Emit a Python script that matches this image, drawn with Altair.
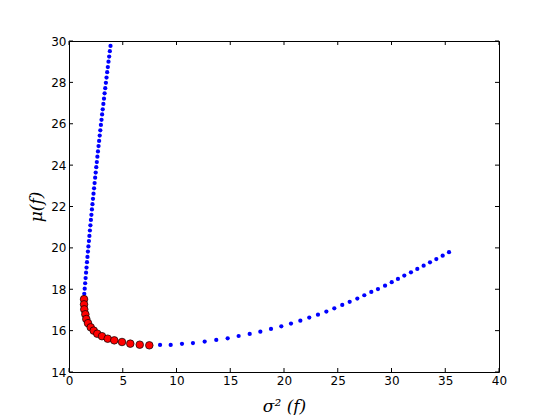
import altair as alt
import pandas as pd

# upper branch of the blue frontier (sigma^2, mu)
upper_var = [1.420, 1.461, 1.502, 1.545, 1.587, 1.630, 1.673, 1.717, 1.761, 1.806,
             1.852, 1.897, 1.944, 1.990, 2.038, 2.085, 2.133, 2.182, 2.231, 2.280,
             2.331, 2.381, 2.432, 2.484, 2.536, 2.588, 2.641, 2.694, 2.748, 2.802,
             2.857, 2.912, 2.968, 3.024, 3.081, 3.138, 3.196, 3.254, 3.312, 3.371,
             3.431, 3.491, 3.551, 3.612, 3.674, 3.736, 3.798, 3.861]
upper_mu = [17.78, 18.03, 18.29, 18.54, 18.80, 19.05, 19.31, 19.56, 19.82, 20.07,
            20.33, 20.58, 20.84, 21.09, 21.35, 21.60, 21.86, 22.11, 22.37, 22.62,
            22.88, 23.13, 23.39, 23.64, 23.90, 24.15, 24.41, 24.66, 24.92, 25.17,
            25.43, 25.68, 25.94, 26.19, 26.45, 26.70, 26.96, 27.21, 27.47, 27.72,
            27.98, 28.23, 28.49, 28.74, 29.00, 29.25, 29.51, 29.76]

# lower branch of the blue frontier
lower_var = [8.47, 9.46, 10.51, 11.53, 12.62, 13.70, 14.76, 15.78, 16.81, 17.80,
             18.79, 19.75, 20.65, 21.52, 22.35, 23.16, 23.94, 24.68, 25.42, 26.11,
             26.82, 27.47, 28.12, 28.74, 29.40, 30.02, 30.60, 31.19, 31.81, 32.40,
             32.99, 33.58, 34.17, 34.76, 35.35]
lower_mu = [15.31, 15.31, 15.36, 15.40, 15.47, 15.55, 15.63, 15.74, 15.84, 15.95,
            16.08, 16.21, 16.34, 16.48, 16.63, 16.77, 16.92, 17.08, 17.24, 17.39,
            17.55, 17.71, 17.87, 18.01, 18.17, 18.34, 18.50, 18.66, 18.82, 18.98,
            19.14, 19.30, 19.46, 19.62, 19.79]

# red highlighted points
red_var = [1.40, 1.40, 1.42, 1.52, 1.61, 1.77, 2.02, 2.30, 2.63, 3.07,
           3.60, 4.21, 4.93, 5.70, 6.58, 7.47]
red_mu = [17.52, 17.27, 17.03, 16.79, 16.56, 16.36, 16.16, 16.00, 15.85, 15.73,
          15.61, 15.53, 15.45, 15.37, 15.32, 15.29]

x_ticks = [0, 5, 10, 15, 20, 25, 30, 35, 40]
y_ticks = [14, 16, 18, 20, 22, 24, 26, 28, 30]

W, H = 430, 331

blue = pd.DataFrame({"var": upper_var + lower_var, "mu": upper_mu + lower_mu})
red = pd.DataFrame({"var": red_var, "mu": red_mu})
xt = pd.DataFrame({"t": x_ticks})
yt = pd.DataFrame({"t": y_ticks})

xs = alt.Scale(domain=[0, 40], nice=False, zero=False)
ys = alt.Scale(domain=[14, 30], nice=False, zero=False)

xaxis = alt.Axis(values=x_ticks, ticks=False, domain=False, grid=False,
                 labelFont="DejaVu Sans", labelFontSize=12, labelColor="black",
                 labelPadding=3, labelFlush=False, labelOverlap=False,
                 title="σ² (f)", titleFont="DejaVu Serif", titleFontStyle="italic",
                 titleFontWeight="normal", titleFontSize=17, titleColor="black",
                 titleBaseline="middle", titleY=34)
yaxis = alt.Axis(values=y_ticks, ticks=False, domain=False, grid=False,
                 labelFont="DejaVu Sans", labelFontSize=12, labelColor="black",
                 labelPadding=3, labelFlush=False, labelOverlap=False,
                 title="μ(f)", titleFont="DejaVu Serif", titleFontStyle="italic",
                 titleFontWeight="normal", titleFontSize=17, titleColor="black",
                 titleAngle=270, titleBaseline="middle", titleAlign="center",
                 titleX=-33, titleY=H / 2)

base_pts = alt.Chart(blue).mark_circle(size=18, color="#0000ff", opacity=1).encode(
    x=alt.X("var:Q", scale=xs, axis=xaxis),
    y=alt.Y("mu:Q", scale=ys, axis=yaxis),
)

red_pts = alt.Chart(red).mark_point(shape="circle", filled=True, size=58, fill="#ff0000",
                                    stroke="black", strokeWidth=0.7, opacity=1).encode(
    x=alt.X("var:Q", scale=xs),
    y=alt.Y("mu:Q", scale=ys),
)

TL = 4
tick_b = alt.Chart(xt).mark_rule(color="black", strokeWidth=1).encode(
    x=alt.X("t:Q", scale=xs), y=alt.value(H), y2=alt.value(H - TL))
tick_t = alt.Chart(xt).mark_rule(color="black", strokeWidth=1).encode(
    x=alt.X("t:Q", scale=xs), y=alt.value(0), y2=alt.value(TL))
tick_l = alt.Chart(yt).mark_rule(color="black", strokeWidth=1).encode(
    y=alt.Y("t:Q", scale=ys), x=alt.value(0), x2=alt.value(TL))
tick_r = alt.Chart(yt).mark_rule(color="black", strokeWidth=1).encode(
    y=alt.Y("t:Q", scale=ys), x=alt.value(W), x2=alt.value(W - TL))

chart = alt.layer(tick_b, tick_t, tick_l, tick_r, base_pts, red_pts).properties(
    width=W, height=H,
    autosize=alt.AutoSizeParams(type="none"),
    padding={"left": 61, "top": 33, "right": 40, "bottom": 44},
    background="white",
).configure_view(stroke="black", strokeWidth=1)

chart.save("out.html", embed_options={"renderer": "svg", "actions": False})
